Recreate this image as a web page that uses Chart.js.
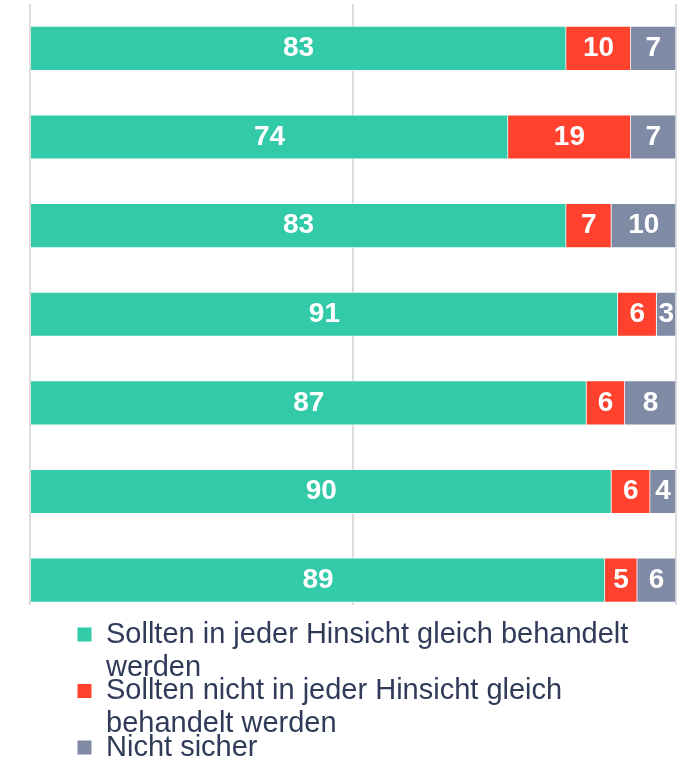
<!DOCTYPE html>
<html>
<head>
<meta charset="utf-8">
<script src="https://cdn.jsdelivr.net/npm/chart.js@4.4.1/dist/chart.umd.min.js"></script>
<style>
  body { margin: 0; background: #fff; }
  #wrap { width: 700px; height: 761px; position: relative; }
</style>
</head>
<body>
<div id="wrap"><canvas id="gleichChart"></canvas></div>
<script>
// one row per bar, top to bottom (no row labels are shown in the chart)
const rowIndex = [0, 1, 2, 3, 4, 5, 6];

const gleich = [83, 74, 83, 91, 87, 90, 89];
const nichtGleich = [10, 19, 7, 6, 6, 6, 5];
const nichtSicher = [7, 7, 10, 3, 8, 4, 6];

const seriesNames = [
    ['Sollten in jeder Hinsicht gleich behandelt', 'werden'],
    ['Sollten nicht in jeder Hinsicht gleich', 'behandelt werden'],
    ['Nicht sicher']
];
const seriesColors = ['#32CAA8', '#FF412D', '#7F8BA4'];

const xTicks = [0, 50, 100];

Chart.defaults.font.family = '"Liberation Sans", Arial, sans-serif';

// bars are drawn as share of each row's total (rows are 100% stacks)
function toShare(values) {
    return values.map((v, i) => {
        const total = gleich[i] + nichtGleich[i] + nichtSicher[i];
        return { x: v / total * 100, y: rowIndex[i] };
    });
}

const allSeries = [gleich, nichtGleich, nichtSicher];

const segmentLabels = {
    id: 'segmentLabels',
    afterDatasetsDraw(chart) {
        const ctx = chart.ctx;
        ctx.save();
        ctx.font = 'bold 28px "Liberation Sans", Arial, sans-serif';
        ctx.fillStyle = '#ffffff';
        ctx.textAlign = 'center';
        ctx.textBaseline = 'middle';
        chart.data.datasets.forEach((ds, i) => {
            chart.getDatasetMeta(i).data.forEach((bar, j) => {
                const p = bar.getCenterPoint();
                ctx.fillText(String(allSeries[i][j]), p.x, p.y);
            });
        });
        ctx.restore();
    }
};

// legend sits a bit higher and further right than chart.js puts it
const legendNudge = {
    id: 'legendNudge',
    afterLayout(chart) {
        chart.legend.left += 20;
        chart.legend.top -= 12.5;
    }
};

const ctx = document.getElementById('gleichChart').getContext('2d');

const data = {
    datasets: allSeries.map((values, i) => ({
        label: seriesNames[i].join(' '),
        data: toShare(values),
        backgroundColor: seriesColors[i],
        borderColor: 'rgba(255, 255, 255, 0.6)',
        borderWidth: 1,
        barThickness: 44.5
    }))
};

const myChart = new Chart(ctx, {
    type: 'bar',
    data: data,
    options: {
        indexAxis: 'y',
        responsive: true,
        maintainAspectRatio: false,
        animation: false,
        layout: {
            padding: { left: 30, right: 24, top: 4, bottom: 0 }
        },
        scales: {
            x: {
                stacked: true,
                min: 0,
                max: 100,
                afterBuildTicks: (scale) => {
                    scale.ticks = xTicks.map(v => ({ value: v }));
                },
                ticks: { display: false },
                grid: { color: '#dcdcdc', lineWidth: 2, drawTicks: false },
                border: { display: false }
            },
            y: {
                type: 'linear',
                stacked: true,
                reverse: true,
                offset: false,
                min: -0.5,
                max: 6.28,
                display: false
            }
        },
        plugins: {
            tooltip: { enabled: false },
            legend: {
                position: 'bottom',
                align: 'start',
                maxHeight: 156,
                labels: {
                    boxWidth: 14,
                    boxHeight: 14,
                    padding: 27.5,
                    color: '#2F3B58',
                    font: { size: 29, lineHeight: 1.15 },
                    generateLabels: (chart) => {
                        const items = Chart.defaults.plugins.legend.labels.generateLabels(chart);
                        items.forEach((item, i) => {
                            item.text = seriesNames[i];
                            item.lineWidth = 0;
                        });
                        return items;
                    }
                }
            }
        }
    },
    plugins: [segmentLabels, legendNudge]
});
</script>
</body>
</html>
